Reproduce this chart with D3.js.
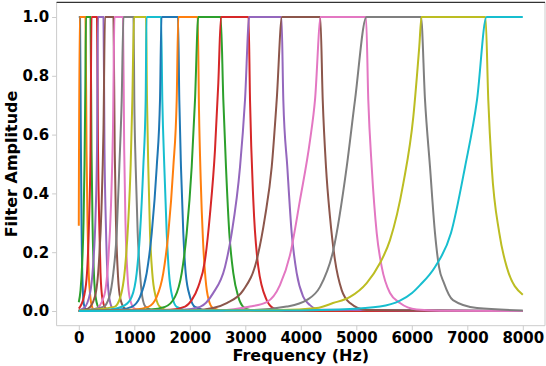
<!DOCTYPE html>
<html><head><meta charset="utf-8">
<script src="https://cdn.jsdelivr.net/npm/d3@7"></script>
<style>
body{margin:0;background:#fff}
svg{display:block}
text{font-family:"DejaVu Sans",sans-serif;font-weight:bold;fill:#000}
</style>
</head><body>
<svg id="c" width="546" height="366"></svg>
<script>
const xTicks = [0, 1000, 2000, 3000, 4000, 5000, 6000, 7000, 8000];
const yTicks = [0.0, 0.2, 0.4, 0.6, 0.8, 1.0];
const xLabel = "Frequency (Hz)";
const yLabel = "Filter Amplitude";
const colors = ["#1f77b4","#ff7f0e","#2ca02c","#d62728","#9467bd","#8c564b","#e377c2","#7f7f7f","#bcbd22","#17becf"];

// frequency (Hz) of points
const filterFreqs = [
  [0, 22, 36, 49, 67, 94, 148, 8000],
  [0, 13, 121, 139, 157, 175, 202, 238, 292, 8000],
  [0, 31, 58, 85, 103, 117, 130, 211, 229, 247, 274, 310, 364, 500, 8000],
  [0, 94, 148, 184, 211, 229, 328, 346, 368, 391, 427, 490, 650, 8000],
  [0, 94, 202, 256, 301, 328, 346, 445, 463, 487, 514, 553, 616, 800, 8000],
  [0, 166, 292, 364, 409, 445, 472, 625, 647, 670, 706, 751, 832, 1000, 8000],
  [0, 310, 454, 526, 580, 616, 643, 796, 818, 841, 878, 923, 1004, 1200, 8000],
  [0, 441, 550, 622, 683, 730, 773, 805, 986, 1000, 1025, 1061, 1103, 1144, 1205, 1400, 8000],
  [0, 640, 750, 830, 890, 935, 965, 995, 1211, 1229, 1252, 1283, 1324, 1386, 1463, 1650, 8000],
  [0, 562, 832, 953, 1043, 1103, 1162, 1205, 1220, 1481, 1505, 1541, 1584, 1625, 1685, 1764, 2000, 8000],
  [0, 742, 953, 1103, 1223, 1314, 1404, 1463, 1490, 1787, 1811, 1841, 1883, 1926, 2004, 2094, 2350, 8000],
  [0, 1012, 1252, 1404, 1522, 1613, 1703, 1764, 1793, 2142, 2166, 2196, 2238, 2283, 2337, 2418, 2650, 8000],
  [0, 1283, 1553, 1733, 1854, 1944, 2034, 2094, 2153, 2557, 2604, 2652, 2712, 2784, 2874, 2964, 3085, 8000],
  [0, 1643, 1914, 2034, 2153, 2274, 2364, 2454, 2514, 2562, 3058, 3085, 3144, 3234, 3386, 3505, 3715, 8000],
  [0, 1823, 2184, 2418, 2634, 2755, 2905, 2995, 3072, 3652, 3685, 3757, 3836, 3926, 4045, 4166, 4346, 8000],
  [0, 2094, 2418, 2665, 2964, 3205, 3355, 3476, 3566, 3661, 4351, 4395, 4454, 4526, 4616, 4737, 4887, 5187, 8000],
  [0, 2544, 3085, 3386, 3624, 3805, 3986, 4166, 4256, 4359, 5175, 5216, 5278, 5368, 5458, 5607, 5787, 6088, 6508, 8000],
  [0, 3085, 3746, 4106, 4346, 4586, 4827, 4977, 5184, 6166, 6238, 6328, 6418, 6490, 6580, 6742, 7175, 8000],
  [0, 3624, 4287, 4580, 4887, 5187, 5427, 5607, 5847, 6027, 6135, 6175, 7328, 7378, 7440, 7577, 7710, 8000],
  [0, 3986, 4706, 5427, 5787, 6004, 6148, 6418, 6706, 6959, 7175, 7346, 8000]
];
// amplitude of the same points
const filterAmps = [
  [1, 1, 0.6, 0.3, 0.1, 0.02, 0, 0],
  [0.29, 1, 1, 0.55, 0.3, 0.15, 0.06, 0.015, 0, 0],
  [0.03, 0.07, 0.15, 0.3, 0.5, 0.75, 1, 1, 0.55, 0.3, 0.12, 0.04, 0.01, 0, 0],
  [0.008, 0.05, 0.13, 0.3, 0.55, 1, 1, 0.55, 0.3, 0.13, 0.04, 0.008, 0, 0],
  [0.003, 0.01, 0.06, 0.15, 0.32, 0.55, 1, 1, 0.55, 0.3, 0.13, 0.04, 0.008, 0, 0],
  [0.002, 0.008, 0.05, 0.17, 0.35, 0.62, 1, 1, 0.55, 0.3, 0.12, 0.04, 0.008, 0, 0],
  [0.001, 0.008, 0.05, 0.16, 0.36, 0.62, 1, 1, 0.55, 0.3, 0.12, 0.04, 0.008, 0, 0],
  [0.001, 0.014, 0.048, 0.129, 0.265, 0.49, 0.718, 1, 1, 0.718, 0.49, 0.265, 0.129, 0.048, 0.014, 0, 0],
  [0.001, 0.014, 0.048, 0.14, 0.3, 0.5, 0.72, 1, 1, 0.718, 0.49, 0.265, 0.129, 0.048, 0.014, 0, 0],
  [0, 0.005, 0.02, 0.048, 0.129, 0.265, 0.49, 0.718, 1, 1, 0.718, 0.49, 0.265, 0.129, 0.048, 0.014, 0.001, 0],
  [0, 0.005, 0.014, 0.048, 0.129, 0.265, 0.49, 0.718, 1, 1, 0.718, 0.49, 0.265, 0.129, 0.048, 0.014, 0.001, 0],
  [0, 0.005, 0.014, 0.048, 0.129, 0.265, 0.49, 0.718, 1, 1, 0.68, 0.45, 0.24, 0.11, 0.04, 0.01, 0, 0],
  [0, 0.005, 0.014, 0.048, 0.129, 0.265, 0.49, 0.718, 1, 1, 0.718, 0.49, 0.265, 0.129, 0.048, 0.014, 0.003, 0],
  [0, 0.004, 0.015, 0.037, 0.083, 0.173, 0.33, 0.548, 0.776, 1, 1, 0.718, 0.378, 0.15, 0.037, 0.01, 0.001, 0],
  [0, 0.003, 0.014, 0.06, 0.15, 0.265, 0.49, 0.718, 1, 1, 0.718, 0.49, 0.265, 0.129, 0.048, 0.02, 0.004, 0],
  [0, 0.003, 0.01, 0.027, 0.071, 0.173, 0.32, 0.49, 0.718, 1, 1, 0.718, 0.49, 0.32, 0.173, 0.071, 0.027, 0.003, 0],
  [0, 0.002, 0.015, 0.03, 0.088, 0.19, 0.378, 0.58, 0.718, 1, 1, 0.718, 0.49, 0.265, 0.15, 0.061, 0.027, 0.005, 0.001, 0],
  [0, 0.003, 0.015, 0.037, 0.082, 0.207, 0.49, 0.718, 1, 1, 0.718, 0.49, 0.265, 0.15, 0.095, 0.037, 0.01, 0.002],
  [0, 0.003, 0.01, 0.027, 0.048, 0.095, 0.163, 0.241, 0.434, 0.66, 0.9, 1, 1, 0.718, 0.49, 0.265, 0.15, 0.055],
  [0, 0.002, 0.005, 0.015, 0.035, 0.061, 0.088, 0.15, 0.265, 0.49, 0.718, 1, 1]
];

const svg = d3.select("#c");
const L = 56.6, R = 545, T = 2.3, B = 325.7;
const x = d3.scaleLinear().domain([-400, 8400]).range([L, R]);
const y = d3.scaleLinear().domain([-0.05, 1.05]).range([B, T]);

const line = d3.line()
  .x(d => x(d[0])).y(d => y(d[1]))
  .curve(d3.curveMonotoneX);

const plot = svg.append("g");
filterFreqs.forEach((fs, i) => {
  const pts = fs.map((f, j) => [f, filterAmps[i][j]]);
  plot.append("path")
    .attr("d", line(pts))
    .attr("fill", "none")
    .attr("stroke", colors[i % colors.length])
    .attr("stroke-width", 2)
    .attr("stroke-linejoin", "round");
});

// spines
const spine = "#cccccc";
svg.append("line").attr("x1", L).attr("x2", L).attr("y1", T).attr("y2", B).attr("stroke", spine).attr("stroke-width", 1);
svg.append("line").attr("x1", R).attr("x2", R).attr("y1", T).attr("y2", B).attr("stroke", spine).attr("stroke-width", 1);
svg.append("line").attr("x1", L).attr("x2", R).attr("y1", B).attr("y2", B).attr("stroke", spine).attr("stroke-width", 1);
svg.append("line").attr("x1", L).attr("x2", R).attr("y1", T).attr("y2", T).attr("stroke", "#000").attr("stroke-width", 1);

// axes
const xAxis = svg.append("g").attr("transform", `translate(0,${B})`)
  .call(d3.axisBottom(x).tickValues(xTicks).tickFormat(d3.format("d")).tickSize(4.5).tickPadding(2));
const yAxis = svg.append("g").attr("transform", `translate(${L},0)`)
  .call(d3.axisLeft(y).tickValues(yTicks).tickFormat(d3.format(".1f")).tickSize(4.5).tickPadding(3));
[xAxis, yAxis].forEach(g => {
  g.select(".domain").remove();
  g.selectAll(".tick line").attr("stroke", spine);
  g.selectAll(".tick text").style("font-size", "15px").style("font-family", '"DejaVu Sans",sans-serif').style("font-weight", "bold").attr("fill", "#000");
});

svg.append("text").attr("x", (L + R) / 2).attr("y", 361)
  .attr("text-anchor", "middle").style("font-size", "16px").text(xLabel);
svg.append("text").attr("transform", `translate(17,${(T + B) / 2}) rotate(-90)`)
  .attr("text-anchor", "middle").style("font-size", "16px").text(yLabel);
</script>
</body></html>
